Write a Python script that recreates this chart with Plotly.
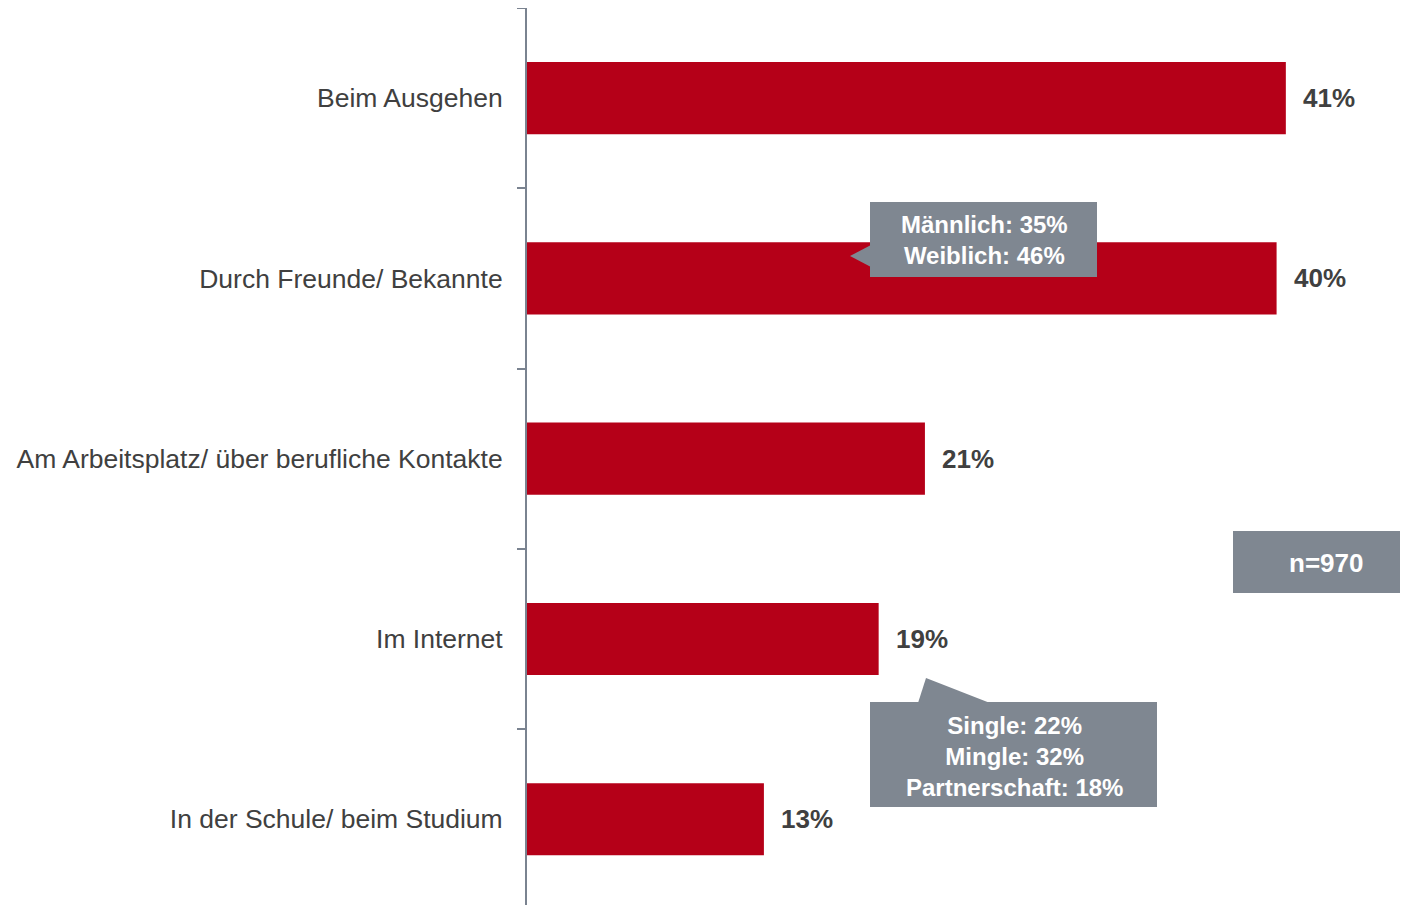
import plotly.graph_objects as go

categories = ["Beim Ausgehen", "Durch Freunde/ Bekannte",
              "Am Arbeitsplatz/ über berufliche Kontakte", "Im Internet",
              "In der Schule/ beim Studium"]
values = [41.0, 40.5, 21.5, 19.0, 12.8]
value_labels = ["41%", "40%", "21%", "19%", "13%"]
callout_gender = ["Männlich: 35%", "Weiblich: 46%"]
callout_status = ["Single: 22%", "Mingle: 32%", "Partnerschaft: 18%"]
sample_label = "n=970"

W, H = 1408, 905
ML, MR, MT, MB = 519, 8, 0, 8
PW, PH = W - ML - MR, H - MT - MB
OFF = 8  # page body margin

BAR = "#b50018"
TXT = "#404040"
BOX = "#7f8791"
FONT = "Liberation Sans, Arial, sans-serif"


def px(x):
    return (x - OFF - ML) / PW


def py(y):
    return (H - MB - (y - OFF)) / PH


fig = go.Figure()
fig.add_trace(go.Bar(
    x=values, y=categories, orientation="h", width=0.4,
    marker=dict(color=BAR, line=dict(width=0)),
    hoverinfo="skip",
))

for v, c, lab in zip(values, categories, value_labels):
    fig.add_annotation(x=v, y=c, xref="x", yref="y", text=f"<b>{lab}</b>",
                       showarrow=False, xanchor="left", yanchor="middle",
                       xshift=15, font=dict(size=26, color=TXT, family=FONT))

shapes = []
# gender callout
shapes.append(dict(type="rect", xref="paper", yref="paper",
                   x0=px(870), x1=px(1097), y0=py(277), y1=py(202),
                   fillcolor=BOX, line=dict(width=0), layer="above"))
shapes.append(dict(type="path", xref="paper", yref="paper",
                   path=f"M {px(871)} {py(245)} L {px(850)} {py(256)} L {px(871)} {py(267)} Z",
                   fillcolor=BOX, line=dict(width=0), layer="above"))
# status callout
shapes.append(dict(type="rect", xref="paper", yref="paper",
                   x0=px(870), x1=px(1157), y0=py(807), y1=py(702),
                   fillcolor=BOX, line=dict(width=0), layer="above"))
shapes.append(dict(type="path", xref="paper", yref="paper",
                   path=f"M {px(918)} {py(703)} L {px(926)} {py(678)} L {px(990)} {py(703)} Z",
                   fillcolor=BOX, line=dict(width=0), layer="above"))
# sample size box
shapes.append(dict(type="rect", xref="paper", yref="paper",
                   x0=px(1233), x1=px(1420), y0=py(593), y1=py(531),
                   fillcolor=BOX, line=dict(width=0), layer="above"))

fig.add_annotation(xref="paper", yref="paper", x=px(984), y=py(240),
                   text="<br>".join(f"<b>{t}</b>" for t in callout_gender),
                   showarrow=False, xanchor="center", yanchor="middle",
                   align="center", font=dict(size=24, color="white", family=FONT))
fig.add_annotation(xref="paper", yref="paper", x=px(1014), y=py(756),
                   text="<br>".join(f"<b>{t}</b>" for t in callout_status),
                   showarrow=False, xanchor="center", yanchor="middle",
                   align="center", font=dict(size=24, color="white", family=FONT))
fig.add_annotation(xref="paper", yref="paper", x=px(1326), y=py(563),
                   text=f"<b>{sample_label}</b>",
                   showarrow=False, xanchor="center", yanchor="middle",
                   font=dict(size=26, color="white", family=FONT))

fig.update_layout(
    width=W, height=H,
    margin=dict(l=ML, r=MR, t=MT, b=MB, pad=0),
    paper_bgcolor="white", plot_bgcolor="white",
    showlegend=False,
    shapes=shapes,
    xaxis=dict(range=[0, 47.6], visible=False, fixedrange=True),
    yaxis=dict(
        type="category", categoryorder="array", categoryarray=categories,
        range=[4.476, -0.5], showgrid=False, zeroline=False,
        showline=True, linecolor="#7a8390", linewidth=2,
        ticks="outside", ticklen=8, tickcolor="#7a8390", tickwidth=2,
        tickson="boundaries", ticklabelstandoff=17,
        tickfont=dict(size=26.5, color=TXT, family=FONT),
        fixedrange=True,
    ),
)

fig.write_html("out.html")
